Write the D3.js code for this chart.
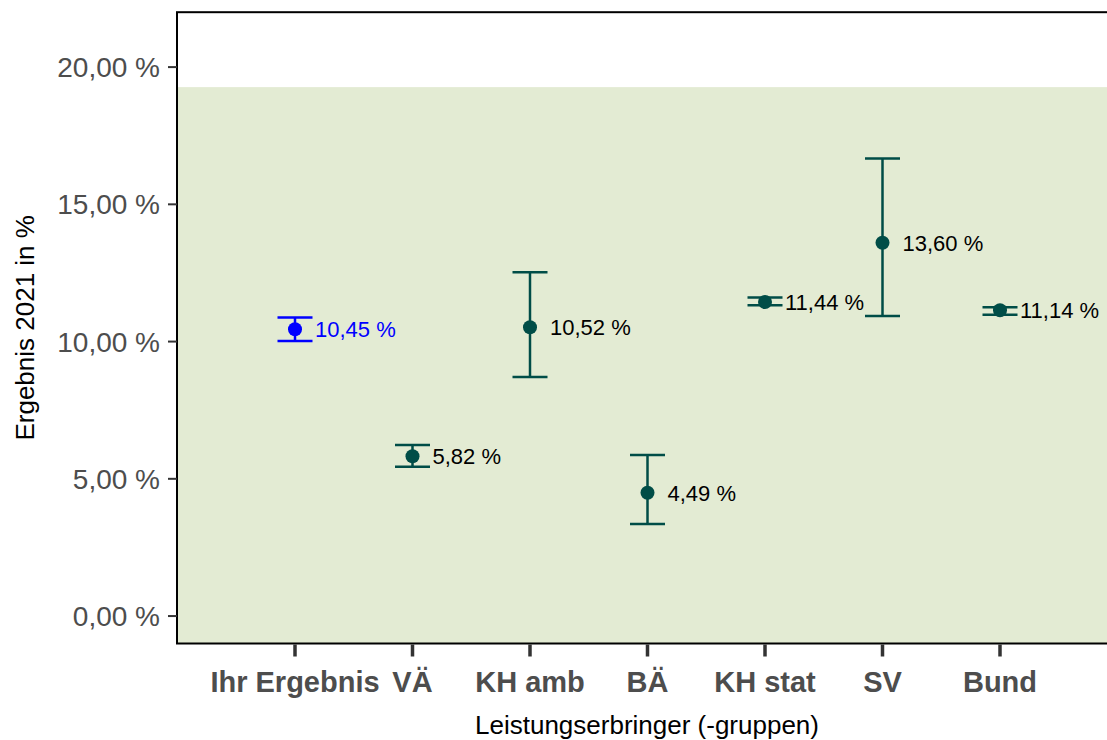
<!DOCTYPE html>
<html><head><meta charset="utf-8">
<script src="https://cdn.jsdelivr.net/npm/d3@7"></script>
<style>body{margin:0;background:#fff;} svg{display:block;font-family:"Liberation Sans",Arial,sans-serif;}</style>
</head><body>
<svg id="c" width="1107" height="740"></svg>
<script>
const categories = ["Ihr Ergebnis","VÄ","KH amb","BÄ","KH stat","SV","Bund"];
const values = [10.45, 5.82, 10.52, 4.49, 11.44, 13.60, 11.14];
const lower  = [10.02, 5.44, 8.71, 3.35, 11.32, 10.93, 10.98];
const upper  = [10.88, 6.23, 12.53, 5.87, 11.61, 16.67, 11.25];
const labels = ["10,45 %","5,82 %","10,52 %","4,49 %","11,44 %","13,60 %","11,14 %"];
const yTicks = [0, 5, 10, 15, 20];
const yTickLabels = ["0,00 %","5,00 %","10,00 %","15,00 %","20,00 %"];
const refUpper = 19.27;

(function(){
const svg = d3.select("#c");
const x = d3.scaleLinear().domain([0, 8]).range([177.5, 1117.5]);
const y = d3.scaleLinear().domain([-1, 22]).range([643.5, 12.2]);
const pL = 177, pR = 1117, pT = y(22), pB = y(-1);

svg.append("clipPath").attr("id","pc").append("rect")
  .attr("x", pL).attr("y", pT).attr("width", pR-pL).attr("height", pB-pT);

svg.append("rect").attr("x", pL).attr("y", y(refUpper)).attr("width", pR-pL)
  .attr("height", pB - y(refUpper)).attr("fill", "#e3ebd3");

const g = svg.append("g").attr("clip-path","url(#pc)");
const teal = "#004d47", blue = "#0000ff";
const col = i => i === 0 ? blue : teal;

categories.forEach((c, i) => {
  const cx = x(i+1);
  g.append("line").attr("x1", cx).attr("x2", cx).attr("y1", y(lower[i])).attr("y2", y(upper[i]))
    .attr("stroke", col(i)).attr("stroke-width", 2.5);
  [lower[i], upper[i]].forEach(v => {
    g.append("line").attr("x1", cx-17.5).attr("x2", cx+17.5).attr("y1", y(v)).attr("y2", y(v))
      .attr("stroke", col(i)).attr("stroke-width", 2.5);
  });
  g.append("circle").attr("cx", cx).attr("cy", y(values[i])).attr("r", 7).attr("fill", col(i));
  g.append("text").attr("x", cx+20).attr("y", y(values[i])).attr("dy", "0.36em")
    .attr("font-size", 22).attr("fill", i === 0 ? blue : "#000").text(labels[i]);
});

svg.append("rect").attr("x", pL).attr("y", pT).attr("width", pR-pL).attr("height", pB-pT)
  .attr("fill","none").attr("stroke","#000").attr("stroke-width", 2);

const ya = svg.append("g");
yTicks.forEach((t, i) => {
  ya.append("line").attr("x1", pL-9).attr("x2", pL).attr("y1", y(t)).attr("y2", y(t))
    .attr("stroke", "#333").attr("stroke-width", 2);
  ya.append("text").attr("x", pL-17).attr("y", y(t)).attr("dy","0.36em").attr("text-anchor","end")
    .attr("font-size", 28).attr("fill","#4d4d4d").text(yTickLabels[i]);
});
const xa = svg.append("g");
categories.forEach((c, i) => {
  xa.append("line").attr("x1", x(i+1)).attr("x2", x(i+1)).attr("y1", pB+1).attr("y2", pB+13)
    .attr("stroke", "#333").attr("stroke-width", 3.5);
  xa.append("text").attr("x", x(i+1)).attr("y", 692).attr("text-anchor","middle")
    .attr("font-size", 29).attr("font-weight","bold").attr("fill","#4d4d4d").text(c);
});
svg.append("text").attr("x", 647).attr("y", 734).attr("text-anchor","middle")
  .attr("font-size", 26).attr("fill","#000").text("Leistungserbringer (-gruppen)");
svg.append("text").attr("transform", `translate(34,${(pT+pB)/2}) rotate(-90)`).attr("text-anchor","middle")
  .attr("font-size", 26).attr("fill","#000").text("Ergebnis 2021 in %");
})();
</script>
</body></html>
